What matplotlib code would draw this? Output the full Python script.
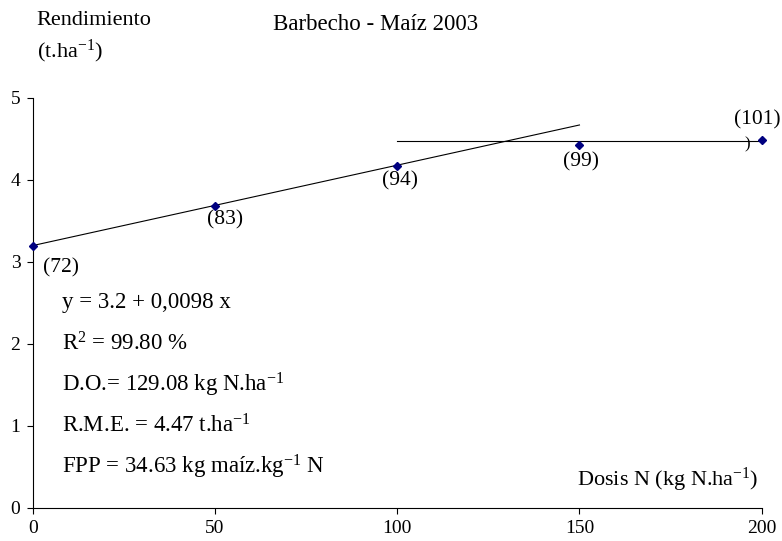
import numpy as np
import matplotlib
matplotlib.use("Agg")
import matplotlib.pyplot as plt

plt.rcParams["font.family"] = ["Liberation Serif", "DejaVu Serif"]
plt.rcParams["mathtext.fontset"] = "custom"
plt.rcParams["mathtext.rm"] = "Liberation Serif"
plt.rcParams["mathtext.it"] = "Liberation Serif:italic"

# data
dosis = [0, 50, 100, 150, 200]
rendimiento = [3.20, 3.68, 4.17, 4.42, 4.49]
rel_labels = ["(72)", "(83)", "(94)", "(99)", "(101)"]
label_offsets = [(20, -16), (7, -10), (2, -11), (1, -12), (-3, 14)]

# fitted model: linear up to 150, plateau from 100
intercept, slope = 3.2, 0.0098
lin_x = [0, 150]
plateau_x = [100, 200]
plateau_y = 4.47

stats_lines = [
    "y = 3.2 + 0,0098 x",
    "R$^{2}$ = 99.80 %",
    "D.O.= 129.08 kg N.ha$^{-1}$",
    "R.M.E. = 4.47 t.ha$^{-1}$",
    "FPP = 34.63 kg maíz.kg$^{-1}$ N",
]
stats_y = [2.5, 2.0, 1.5, 1.0, 0.5]

fig = plt.figure(figsize=(7.82, 5.41), dpi=100)
ax = fig.add_axes([0.042, 0.061, 0.932, 0.758])

lx = np.array(lin_x)
ax.plot(lx, intercept + slope * lx, color="black", lw=0.8)
ax.plot(plateau_x, [plateau_y, plateau_y], color="black", lw=0.8)
ax.text(196, plateau_y - 0.04, ")", fontsize=12, ha="center", va="center")
ax.plot(dosis, rendimiento, linestyle="none", marker="D", ms=4.5,
        color="#000080", clip_on=False, zorder=5)

for x, y, lab, (dx, dy) in zip(dosis, rendimiento, rel_labels, label_offsets):
    ax.annotate(lab, (x, y), xytext=(dx, dy), textcoords="offset points",
                ha="center", va="center", fontsize=15.5, annotation_clip=False)

for line, yy in zip(stats_lines, stats_y):
    ax.text(8, yy, line, fontsize=16.5, ha="left", va="center")

ax.text(199, 0.34, "Dosis N (kg N.ha$^{-1}$)", fontsize=16,
        ha="right", va="center")

ax.set_xlim(0, 200)
ax.set_ylim(0, 5)
ax.set_xticks([0, 50, 100, 150, 200])
ax.set_yticks([0, 1, 2, 3, 4, 5])
ax.tick_params(direction="out", length=4, width=0.8, labelsize=14, pad=5)
for s in ["top", "right"]:
    ax.spines[s].set_visible(False)
for s in ["left", "bottom"]:
    ax.spines[s].set_linewidth(0.8)

fig.text(0.047, 0.962, "Rendimiento", fontsize=16, ha="left", va="center")
fig.text(0.047, 0.905, "(t.ha$^{-1}$)", fontsize=16, ha="left", va="center")
fig.text(0.48, 0.955, "Barbecho - Maíz 2003", fontsize=16.5, ha="center", va="center")

fig.savefig("out.png", dpi=100)
